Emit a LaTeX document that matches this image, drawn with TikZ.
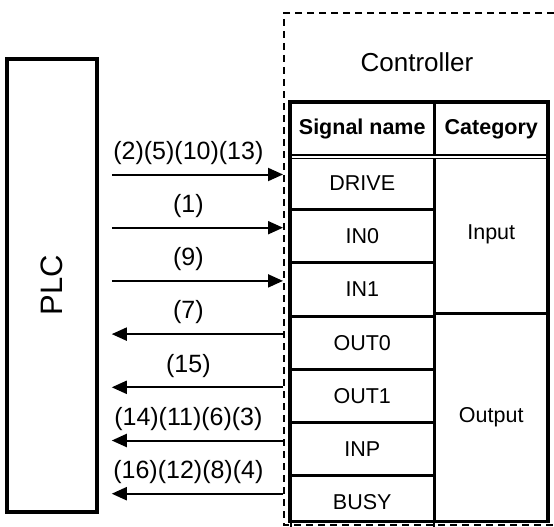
\documentclass[tikz,border=0pt]{standalone}
\usepackage{fontspec}
\setmainfont{Liberation Sans}
\usetikzlibrary{positioning,arrows.meta,calc}

\begin{document}
\begin{tikzpicture}[
    x=1pt, y=-1pt,
    cell/.style={rectangle, draw, line width=1.5pt, inner sep=0pt,
                 minimum width=143pt, minimum height=51.7pt, font=\fontsize{21.5}{23}\selectfont},
    catcell/.style={cell, minimum width=112pt},
    sig/.style={-{Triangle[length=15pt, width=13pt]}, line width=2pt},
    lab/.style={above=9pt, xshift=-9pt, inner sep=0pt, font=\fontsize{25}{27}\selectfont}
]
\useasboundingbox (0,0) rectangle (554,527);

% PLC block
\node[rectangle, draw, line width=3.5pt, minimum width=90pt, minimum height=453pt,
      font=\fontsize{31}{33}\selectfont] (plc) at (52,285.5) {\rotatebox{90}{PLC}};

% Controller frame (dashed, runs off the right side)
\coordinate (ftr) at (554,13);
\coordinate (ftl) at (284,13);
\coordinate (fbl) at (284,525);
\coordinate (fbr) at (554,525);
\draw[line width=1.4pt, dash pattern=on 7pt off 5pt] (ftr) -- (ftl) -- (fbl) -- (fbr);
\node[font=\fontsize{26}{28}\selectfont] (ctrl) at (417,62) {Controller};

% Table: header row
\node[cell, minimum height=53pt, anchor=north west] (hname) at (290,102) {\textbf{Signal name}};
\node[catcell, minimum height=53pt, right=0pt of hname] (hcat) {\textbf{Category}};

% Table: signal names
\node[cell, below=0pt of hname] (drive) {DRIVE};
\node[cell, below=0pt of drive] (in0) {IN0};
\node[cell, below=0pt of in0] (in1) {IN1};
\node[cell, below=0pt of in1] (out0) {OUT0};
\node[cell, below=0pt of out0] (out1) {OUT1};
\node[cell, below=0pt of out1] (inp) {INP};
\node[cell, below=0pt of inp] (busy) {BUSY};

% Table: categories
\node[catcell, minimum height=155.1pt, below=0pt of hcat] (input) {Input};
\node[catcell, minimum height=206.8pt, below=0pt of input] (output) {Output};

% Double rule under header, thick outer border
\draw[double, double distance=2pt, line width=1.3pt] (hname.south west) -- (hcat.south east);
\draw[line width=3.8pt] (hname.north west) rectangle (output.south east);

% Arrow end points
\foreach \r in {drive,in0,in1,out0,out1,inp,busy}{
  \coordinate (\r-c) at ($(\r.north west)+(-7,18)$);
  \coordinate (\r-p) at ($(plc.east |- \r-c)+(13,0)$);
}

% Inputs: PLC -> controller
\draw[sig] (drive-p) -- node[lab] {(2)(5)(10)(13)} (drive-c);
\draw[sig] (in0-p) -- node[lab] {(1)} (in0-c);
\draw[sig] (in1-p) -- node[lab] {(9)} (in1-c);

% Outputs: controller -> PLC
\draw[sig] (out0-c) -- node[lab] {(7)} (out0-p);
\draw[sig] (out1-c) -- node[lab] {(15)} (out1-p);
\draw[sig] (inp-c) -- node[lab] {(14)(11)(6)(3)} (inp-p);
\draw[sig] (busy-c) -- node[lab] {(16)(12)(8)(4)} (busy-p);

\end{tikzpicture}
\end{document}
